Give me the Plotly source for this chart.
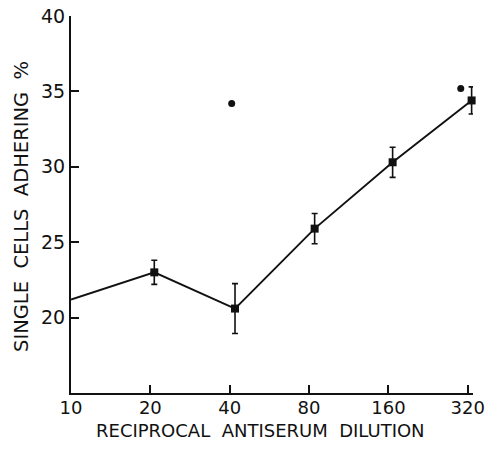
import plotly.graph_objects as go
import math

# Data
line_x = [10, 20.7, 41.9, 84, 166, 331]
line_y = [21.2, 23.0, 20.6, 25.9, 30.3, 34.4]

pt_x = [20.7, 41.9, 84, 166, 331]
pt_y = [23.0, 20.6, 25.9, 30.3, 34.4]
pt_err = [0.8, 1.65, 1.0, 1.0, 0.9]

dot_x = [40.7, 301]
dot_y = [34.2, 35.2]

x_ticks = [10, 20, 40, 80, 160, 320]
x_labels = ["10", "20", "40", "80", "160", "320"]
y_ticks = [20, 25, 30, 35, 40]

FONT = "DejaVu Sans"
INK = "#111111"

W, H = 487, 449
L, R, T, B = 71, 14, 16, 56
XMAX = 335

fig = go.Figure()
fig.add_trace(go.Scatter(x=line_x, y=line_y, mode="lines",
                         line=dict(color=INK, width=1.9), hoverinfo="skip",
                         cliponaxis=False))
fig.add_trace(go.Scatter(x=pt_x, y=pt_y, mode="markers",
                         marker=dict(symbol="square", size=8, color=INK),
                         error_y=dict(type="data", array=pt_err, visible=True,
                                      color=INK, thickness=1.6, width=3),
                         cliponaxis=False))
fig.add_trace(go.Scatter(x=dot_x, y=dot_y, mode="markers",
                         marker=dict(symbol="circle", size=7, color=INK),
                         cliponaxis=False))

fig.update_layout(
    width=W, height=H,
    margin=dict(l=L, r=R, t=T, b=B),
    paper_bgcolor="white", plot_bgcolor="white",
    showlegend=False,
    font=dict(family=FONT, color=INK, size=18),
)
fig.update_xaxes(
    type="log", range=[1, math.log10(XMAX)],
    tickvals=x_ticks, ticktext=x_labels,
    showgrid=False, zeroline=False, automargin=False,
    showline=True, linecolor=INK, linewidth=2,
    ticks="inside", ticklen=8, tickwidth=1.5, tickcolor=INK,
    tickfont=dict(size=18), ticklabelstandoff=-3,
)
fig.update_yaxes(
    range=[15, 40],
    tickvals=y_ticks,
    showgrid=False, zeroline=False, automargin=False,
    showline=True, linecolor=INK, linewidth=2,
    ticks="inside", ticklen=8, tickwidth=1.5, tickcolor=INK,
    tickfont=dict(size=19),
)

fig.add_annotation(text="RECIPROCAL\u00a0 ANTISERUM\u00a0 DILUTION",
                   xref="paper", yref="paper",
                   x=(260 - L) / (W - L - R), y=-(430 - (H - B)) / (H - T - B),
                   xanchor="center", yanchor="middle", showarrow=False,
                   font=dict(size=18, family=FONT, color=INK))
fig.add_annotation(text="SINGLE\u00a0 CELLS\u00a0 ADHERING\u00a0 %",
                   xref="paper", yref="paper",
                   x=-(L - 22) / (W - L - R), y=((H - B) - 207) / (H - T - B),
                   xanchor="center", yanchor="middle", textangle=-90, showarrow=False,
                   font=dict(size=19.5, family=FONT, color=INK))

fig.write_html("out.html")
